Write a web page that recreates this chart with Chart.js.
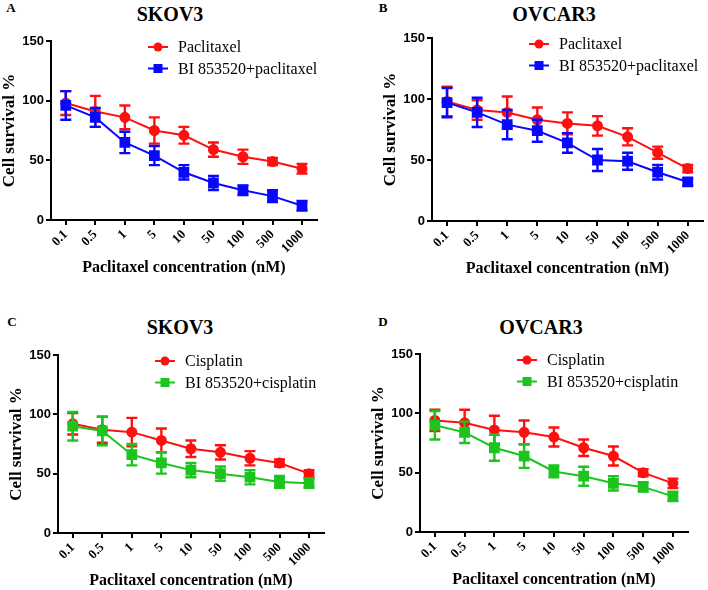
<!DOCTYPE html>
<html>
<head>
<meta charset="utf-8">
<script src="https://cdn.jsdelivr.net/npm/chart.js@4.4.1/dist/chart.umd.min.js"></script>
<style>
  html, body { margin: 0; padding: 0; background: #fff; overflow: hidden; }
  #wrap { position: relative; width: 708px; height: 590px; overflow: hidden; background: #fff; }
  canvas { position: absolute; }
  .txt { position: absolute; transform: translate(-50%, -50%); font-family: "Liberation Serif", serif; font-weight: bold; color: #000; white-space: nowrap; }
  .letter { font-size: 13px; }
  .title { font-size: 20px; }
</style>
</head>
<body>
<div id="wrap">
  <div class="txt letter" style="left:11px;top:8px">A</div>
  <div class="txt title" style="left:170px;top:14px">SKOV3</div>
  <div class="txt letter" style="left:383px;top:8px">B</div>
  <div class="txt title" style="left:554px;top:14px">OVCAR3</div>
  <div class="txt letter" style="left:12px;top:322px">C</div>
  <div class="txt title" style="left:180px;top:327px">SKOV3</div>
  <div class="txt letter" style="left:383px;top:322px">D</div>
  <div class="txt title" style="left:541px;top:327px">OVCAR3</div>
  <canvas id="cA"></canvas>
  <canvas id="cB"></canvas>
  <canvas id="cC"></canvas>
  <canvas id="cD"></canvas>
</div>
<script>
// concentrations (nM)
const doses = ['0.1', '0.5', '1', '5', '10', '50', '100', '500', '1000'];
const yTicks = [0, 50, 100, 150];

// A - SKOV3, paclitaxel
const skovPac = [98, 91, 86, 75, 71, 59, 53, 49, 43];
const skovPacErr = [10, 13, 10, 11, 7, 6, 6, 3, 4];
const skovBiPac = [96, 86, 65, 54, 40, 31, 25, 20, 12];
const skovBiPacErr = [12, 8, 9, 8, 6, 6, 4, 5, 4];

// B - OVCAR3, paclitaxel
const ovcarPac = [98, 91, 89, 83, 80, 78, 69, 56, 43];
const ovcarPacErr = [12, 8, 13, 10, 9, 8, 7, 5, 3];
const ovcarBiPac = [97, 89, 79, 74, 64, 50, 49, 40, 32];
const ovcarBiPacErr = [12, 12, 12, 9, 8, 9, 7, 6, 3];

// C - SKOV3, cisplatin
const skovCis = [92, 87, 85, 78, 71, 68, 63, 59, 50];
const skovCisErr = [9, 11, 12, 10, 7, 6, 6, 3, 3];
const skovBiCis = [90, 86, 66, 59, 53, 50, 47, 43, 42];
const skovBiCisErr = [12, 12, 9, 9, 6, 6, 6, 5, 4];

// D - OVCAR3, cisplatin
const ovcarCis = [94, 92, 86, 84, 80, 71, 64, 50, 41];
const ovcarCisErr = [9, 11, 12, 10, 8, 7, 8, 3, 4];
const ovcarBiCis = [90, 84, 71, 64, 51, 47, 41, 38, 30];
const ovcarBiCisErr = [12, 9, 11, 10, 5, 8, 6, 4, 4];

const RED = '#ff1010';
const BLUE = '#0808ff';
const GREEN = '#1ec41e';
const SERIF = '"Liberation Serif", "Times New Roman", serif';
const SANS = '"Liberation Sans", Arial, sans-serif';

Chart.defaults.color = '#000';

// error bars, drawn right after each dataset
const errorBars = {
    id: 'errorBars',
    afterDatasetDraw(chart, args) {
        const ds = chart.data.datasets[args.index];
        const y = chart.scales.y;
        const ctx = chart.ctx;
        ctx.save();
        ctx.strokeStyle = ds.borderColor;
        ctx.lineWidth = 2.4;
        args.meta.data.forEach(function(pt, i) {
            const v = ds.data[i], e = ds.errors[i];
            const top = y.getPixelForValue(v + e);
            const bot = y.getPixelForValue(v - e);
            ctx.beginPath();
            ctx.moveTo(pt.x, top); ctx.lineTo(pt.x, bot);
            ctx.moveTo(pt.x - 5.5, top); ctx.lineTo(pt.x + 5.5, top);
            ctx.moveTo(pt.x - 5.5, bot); ctx.lineTo(pt.x + 5.5, bot);
            ctx.stroke();
        });
        ctx.restore();
    }
};

// legend inside the plot, line + marker + text
const insideLegend = {
    id: 'insideLegend',
    afterDraw(chart) {
        const ctx = chart.ctx;
        const area = chart.chartArea;
        chart.data.datasets.forEach(function(ds, i) {
            const x0 = area.left + 97;
            const yy = area.top + 6 + 21.5 * i;
            ctx.save();
            ctx.strokeStyle = ds.borderColor;
            ctx.fillStyle = ds.borderColor;
            ctx.lineWidth = 2;
            ctx.beginPath();
            ctx.moveTo(x0, yy); ctx.lineTo(x0 + 20, yy);
            ctx.stroke();
            if (ds.pointStyle === 'rect') {
                ctx.fillRect(x0 + 10 - 4.5, yy - 4.5, 9, 9);
            } else {
                ctx.beginPath();
                ctx.arc(x0 + 10, yy, 4.5, 0, Math.PI * 2);
                ctx.fill();
            }
            ctx.fillStyle = '#000';
            ctx.font = '16px ' + SERIF;
            ctx.textBaseline = 'middle';
            ctx.fillText(ds.label, x0 + 30, yy + 1);
            ctx.restore();
        });
    }
};

function makePanel(id, box, names, s1, e1, s2, e2, color2) {
    // box = plot area (axis lines) in page pixels
    const left = Math.round(box.l - 52);
    const top = Math.round(box.t - 10);
    const width = Math.round(box.r + 5 - left);
    const height = Math.round(box.b + 57 + 5 - top);
    const cv = document.getElementById(id);
    cv.width = width; cv.height = height;
    cv.style.left = left + 'px'; cv.style.top = top + 'px';
    cv.style.width = width + 'px'; cv.style.height = height + 'px';

    new Chart(cv.getContext('2d'), {
        type: 'line',
        data: {
            labels: doses,
            datasets: [{
                label: names[0],
                data: s1,
                errors: e1,
                borderColor: RED,
                backgroundColor: RED,
                pointBackgroundColor: RED,
                pointStyle: 'circle',
                pointRadius: 4.5,
                borderWidth: 2,
                order: 1
            }, {
                label: names[1],
                data: s2,
                errors: e2,
                borderColor: color2,
                backgroundColor: color2,
                pointBackgroundColor: color2,
                pointStyle: 'rect',
                pointRadius: 6.2,
                borderWidth: 2,
                order: 0
            }]
        },
        options: {
            responsive: false,
            animation: false,
            layout: { padding: { left: 0, top: 10, right: 5, bottom: 5 } },
            plugins: { legend: { display: false }, tooltip: { enabled: false } },
            scales: {
                x: {
                    type: 'category',
                    offset: true,
                    border: { color: '#000', width: 2 },
                    grid: { display: true, drawOnChartArea: false, drawTicks: true, tickLength: 5, color: '#000', lineWidth: 2 },
                    ticks: {
                        autoSkip: false, minRotation: 45, maxRotation: 45, padding: 2,
                        font: { family: SERIF, weight: 'bold', size: 13 }
                    },
                    title: {
                        display: true, text: 'Paclitaxel concentration (nM)', padding: 0,
                        font: { family: SERIF, weight: 'bold', size: 16 }
                    },
                    afterFit: function(s) { s.height = 57; }
                },
                y: {
                    min: 0, max: 150,
                    border: { color: '#000', width: 2 },
                    grid: { display: true, drawOnChartArea: false, drawTicks: true, tickLength: 5, color: '#000', lineWidth: 2 },
                    ticks: {
                        stepSize: 50, padding: 2,
                        font: { family: SANS, weight: 'bold', size: 13 }
                    },
                    afterBuildTicks: function(s) { s.ticks = yTicks.map(function(v) { return { value: v }; }); },
                    title: {
                        display: true, text: 'Cell survival %', padding: 0,
                        font: { family: SERIF, weight: 'bold', size: 17 }
                    },
                    afterFit: function(s) { s.width = 52; }
                }
            }
        },
        plugins: [errorBars, insideLegend]
    });
}

makePanel('cA', { l: 50.5, t: 41, r: 320, b: 220 }, ['Paclitaxel', 'BI 853520+paclitaxel'],
    skovPac, skovPacErr, skovBiPac, skovBiPacErr, BLUE);
makePanel('cB', { l: 432.3, t: 38, r: 706, b: 221 }, ['Paclitaxel', 'BI 853520+paclitaxel'],
    ovcarPac, ovcarPacErr, ovcarBiPac, ovcarBiPacErr, BLUE);
makePanel('cC', { l: 58.3, t: 355, r: 326.7, b: 532.7 }, ['Cisplatin', 'BI 853520+cisplatin'],
    skovCis, skovCisErr, skovBiCis, skovBiCisErr, GREEN);
makePanel('cD', { l: 420, t: 354, r: 691, b: 532.3 }, ['Cisplatin', 'BI 853520+cisplatin'],
    ovcarCis, ovcarCisErr, ovcarBiCis, ovcarBiCisErr, GREEN);
</script>
</body>
</html>
